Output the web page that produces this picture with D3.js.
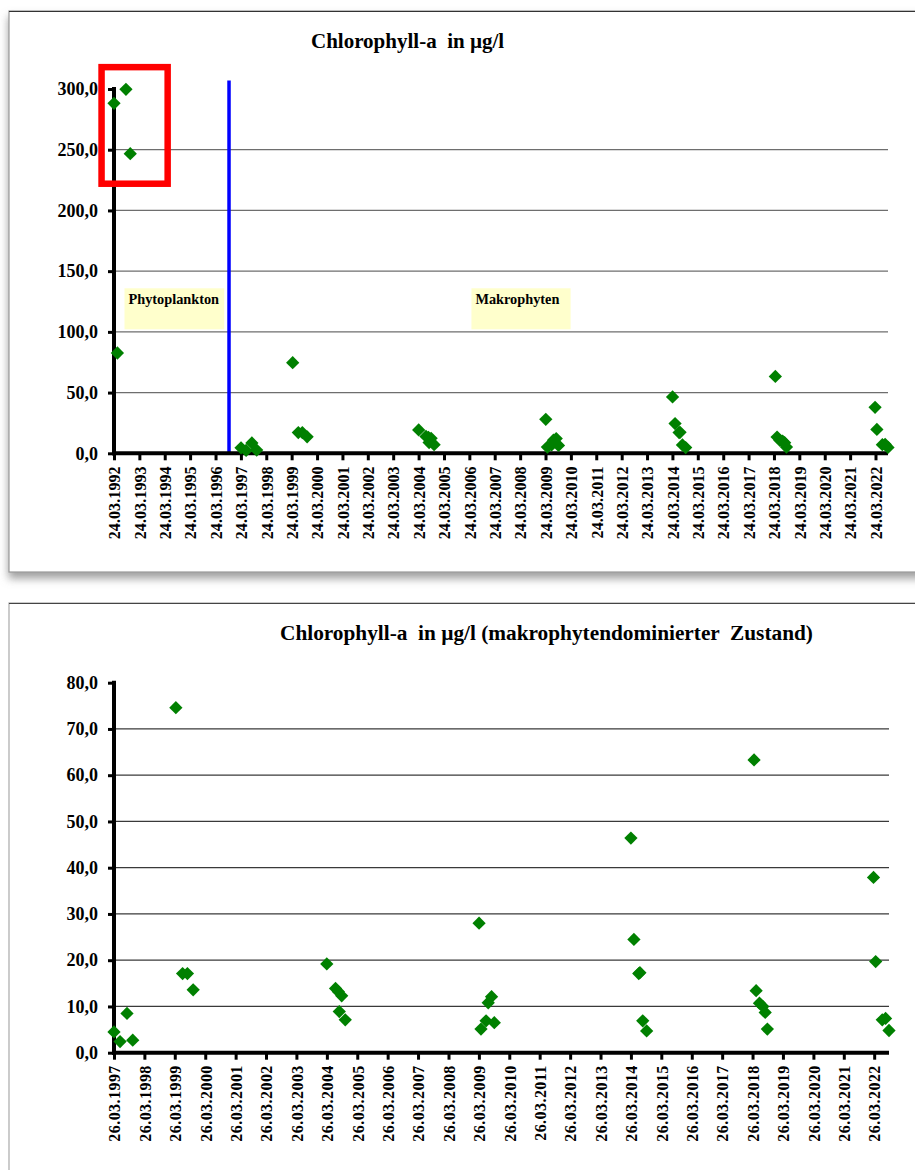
<!DOCTYPE html>
<html><head><meta charset="utf-8">
<script src="https://cdn.jsdelivr.net/npm/d3@7"></script>
<style>
html,body{margin:0;padding:0;background:#fff;}
svg{display:block;}
text{font-family:"Liberation Serif","Times New Roman",serif;font-weight:bold;fill:#000;white-space:pre;}
</style></head>
<body>
<script>
// ---------- DATA ----------
const phytoDates  = ["1992-03-24","1992-05-12","1992-09-12","1992-11-13"];
const phytoValues = [288.2, 82.6, 299.7, 246.7];

const macroDates = [
 "1997-03-26","1997-06-07","1997-08-29","1997-11-06",
 "1999-04-08","1999-06-28","1999-08-25","1999-11-02",
 "2004-03-25","2004-07-08","2004-08-12","2004-08-22","2004-09-20","2004-11-02",
 "2009-03-28","2009-04-20","2009-06-20","2009-07-16","2009-08-25","2009-09-27",
 "2014-03-26","2014-05-01","2014-06-28","2014-07-12","2014-08-15","2014-10-01",
 "2018-04-13","2018-05-08","2018-06-17","2018-07-27","2018-08-25","2018-09-20",
 "2022-03-18","2022-04-13","2022-07-01","2022-08-10","2022-09-20"];
const macroValues = [
 4.5, 2.4, 8.5, 2.7,
 74.6, 17.1, 17.1, 13.6,
 19.2, 13.9, 13.2, 8.9, 12.3, 7.1,
 28.0, 5.1, 6.9, 10.8, 12.1, 6.5,
 46.4, 24.5, 17.1, 17.3, 6.9, 4.7,
 63.3, 13.4, 10.7, 10.0, 8.7, 5.1,
 37.9, 19.7, 7.1, 7.4, 4.8];

const topTickLabels = ["24.03.1992","24.03.1993","24.03.1994","24.03.1995","24.03.1996","24.03.1997",
 "24.03.1998","24.03.1999","24.03.2000","24.03.2001","24.03.2002","24.03.2003","24.03.2004","24.03.2005",
 "24.03.2006","24.03.2007","24.03.2008","24.03.2009","24.03.2010","24.03.2011","24.03.2012","24.03.2013",
 "24.03.2014","24.03.2015","24.03.2016","24.03.2017","24.03.2018","24.03.2019","24.03.2020","24.03.2021","24.03.2022"];
const bottomTickLabels = ["26.03.1997","26.03.1998","26.03.1999","26.03.2000","26.03.2001","26.03.2002",
 "26.03.2003","26.03.2004","26.03.2005","26.03.2006","26.03.2007","26.03.2008","26.03.2009","26.03.2010",
 "26.03.2011","26.03.2012","26.03.2013","26.03.2014","26.03.2015","26.03.2016","26.03.2017","26.03.2018",
 "26.03.2019","26.03.2020","26.03.2021","26.03.2022"];
const topYTicks = [0,50,100,150,200,250,300];
const bottomYTicks = [0,10,20,30,40,50,60,70,80];

const topTitle = "Chlorophyll-a  in µg/l";
const bottomTitle = "Chlorophyll-a  in µg/l (makrophytendominierter  Zustand)";
const topXDomain = ["1992-03-24","2022-09-20"];
const bottomXDomain = ["1997-03-26","2022-09-20"];
const topYDomain = [0,300];
const bottomYDomain = [0,80];

// annotations (in data coordinates)
const regimeShiftDate = "1996-10-04";
const regimeShiftTop = 307;
const phaseLabels = ["Phytoplankton","Makrophyten"];
const phaseBoxStart = ["1992-08-22","2006-04-23"];
const phaseBoxEnd   = ["1996-07-27","2010-03-20"];
const phaseBoxTop = 135.9, phaseBoxBottom = 102.1;
const highlightDates = ["1991-09-27","1994-05-05"];
const highlightValues = [318,222];

// ---------- DRAW ----------
const W = 915, H = 1170;
const FONT = '"Liberation Serif","Times New Roman",serif';
const parseISO = d3.utcParse("%Y-%m-%d");
const parseLbl = d3.utcParse("%d.%m.%Y");
const fmt = v => v.toFixed(1).replace(".", ",");

const svg = d3.select("body").append("svg").attr("width", W).attr("height", H);
const defs = svg.append("defs");
const f = defs.append("filter").attr("id","shadow").attr("x","-5%").attr("y","-5%").attr("width","115%").attr("height","115%");
f.append("feDropShadow").attr("dx",0).attr("dy",6).attr("stdDeviation",4).attr("flood-color","#777").attr("flood-opacity",0.7);

// panels
svg.append("rect").attr("x",9).attr("y",11).attr("width",930).attr("height",561)
  .attr("fill","#fff").attr("stroke","#999").attr("stroke-width",1.2).attr("filter","url(#shadow)");
svg.append("line").attr("x1",9).attr("x2",915).attr("y1",11.5).attr("y2",11.5).attr("stroke","#333").attr("stroke-width",1.2);
svg.append("rect").attr("x",9).attr("y",603).attr("width",930).attr("height",600)
  .attr("fill","#fff").attr("stroke","#aaa").attr("stroke-width",1.2);
svg.append("line").attr("x1",9).attr("x2",915).attr("y1",603.5).attr("y2",603.5).attr("stroke","#444").attr("stroke-width",1.2);

function diamonds(g, xs, ys, dates, values){
  const sym = d3.symbol().type(d3.symbolSquare).size(88);
  g.append("g").selectAll("path").data(dates.map((d,i)=>({d:parseISO(d), v:values[i]})))
    .join("path")
    .attr("d", sym)
    .attr("transform", p => `translate(${xs(p.d)},${ys(p.v)}) rotate(45)`)
    .attr("fill","#008000");
}

function chart(opts){
  const g = svg.append("g");
  const x = d3.scaleUtc().domain(opts.xDomain.map(parseISO)).range(opts.xRange);
  const y = d3.scaleLinear().domain(opts.yDomain).range(opts.yRange);
  g.selectAll("line.grid").data(opts.yTicks.filter(t => t>0 && t<opts.yDomain[1]))
    .join("line").attr("class","grid")
    .attr("x1", opts.xRange[0]).attr("x2", opts.xRange[1])
    .attr("y1", d=>y(d)).attr("y2", d=>y(d))
    .attr("stroke", opts.gridColor).attr("stroke-width",1.2);
  opts.extra && opts.extra(g, x, y);
  // y axis
  const ya = g.append("g").attr("transform",`translate(${opts.xRange[0]},0)`)
    .call(d3.axisLeft(y).tickValues(opts.yTicks).tickFormat(fmt).tickSize(6).tickPadding(10));
  ya.select(".domain").remove();
  ya.selectAll(".tick line").attr("stroke","#000").attr("stroke-width",3);
  ya.selectAll(".tick text").attr("font-size",18).attr("font-family",FONT).attr("font-weight","bold").attr("fill","#000");
  g.append("line").attr("x1",opts.xRange[0]).attr("x2",opts.xRange[0])
    .attr("y1",y(opts.yDomain[1])-2).attr("y2",y(0)+2).attr("stroke","#000").attr("stroke-width",4);
  // x axis
  const tickDates = opts.tickLabels.map(parseLbl);
  const xa = g.append("g").attr("transform",`translate(0,${y(0)})`)
    .call(d3.axisBottom(x).tickValues(tickDates).tickFormat((d,i)=>opts.tickLabels[i]).tickSize(7).tickPadding(0));
  xa.select(".domain").remove();
  xa.selectAll(".tick line").attr("stroke","#000").attr("stroke-width",3);
  xa.selectAll(".tick text")
    .attr("font-size",16).attr("letter-spacing", opts.ls)
    .attr("font-family",FONT).attr("font-weight","bold").attr("fill","#000")
    .attr("text-anchor","end").attr("dy","0.36em").attr("y",0)
    .attr("transform",`translate(0,${opts.labelOffset}) rotate(-90)`);
  g.append("line").attr("x1",opts.xRange[0]-2).attr("x2",opts.xRange[1])
    .attr("y1",y(0)).attr("y2",y(0)).attr("stroke","#000").attr("stroke-width",4);
  // points
  opts.series.forEach(s => diamonds(g, x, y, s[0], s[1]));
  opts.after && opts.after(g, x, y);
  // title
  svg.append("text").attr("x",opts.titleX).attr("y",opts.titleY).attr("font-size",opts.titleSize).text(opts.title);
}

chart({
  xDomain: topXDomain, xRange:[114, 888], yDomain: topYDomain, yRange:[453.3, 89],
  yTicks: topYTicks, tickLabels: topTickLabels, labelOffset: 13, ls: 0.1, gridColor:"#6e6e6e",
  series: [[phytoDates, phytoValues],[macroDates, macroValues]],
  title: topTitle, titleX: 311, titleY: 48, titleSize: 21,
  extra: (g, x, y) => {
    phaseLabels.forEach((lbl,i) => {
      const x0 = x(parseISO(phaseBoxStart[i])), x1 = x(parseISO(phaseBoxEnd[i]));
      g.append("rect").attr("x",x0).attr("y",y(phaseBoxTop)).attr("width",x1-x0)
        .attr("height",y(phaseBoxBottom)-y(phaseBoxTop)).attr("fill","#ffffcc");
      g.append("text").attr("x",x0+4).attr("y",y(phaseBoxTop)+16).attr("font-size",14.3).text(lbl);
    });
    const xs = x(parseISO(regimeShiftDate));
    g.append("line").attr("x1",xs).attr("x2",xs).attr("y1",y(regimeShiftTop)).attr("y2",y(0))
      .attr("stroke","#0000ff").attr("stroke-width",3.5);
  },
  after: (g, x, y) => {
    const hx0 = x(parseISO(highlightDates[0])), hx1 = x(parseISO(highlightDates[1]));
    g.append("rect").attr("x",hx0).attr("y",y(highlightValues[0])).attr("width",hx1-hx0)
      .attr("height",y(highlightValues[1])-y(highlightValues[0]))
      .attr("fill","none").attr("stroke","#ff0000").attr("stroke-width",6.5);
  }
});

chart({
  xDomain: bottomXDomain, xRange:[114, 889], yDomain: bottomYDomain, yRange:[1052.7, 682.7],
  yTicks: bottomYTicks, tickLabels: bottomTickLabels, labelOffset: 12.5, ls: 0.45, gridColor:"#3a3a3a",
  series: [[macroDates, macroValues]],
  title: bottomTitle, titleX: 280, titleY: 640, titleSize: 21.3
});
</script>
</body></html>
